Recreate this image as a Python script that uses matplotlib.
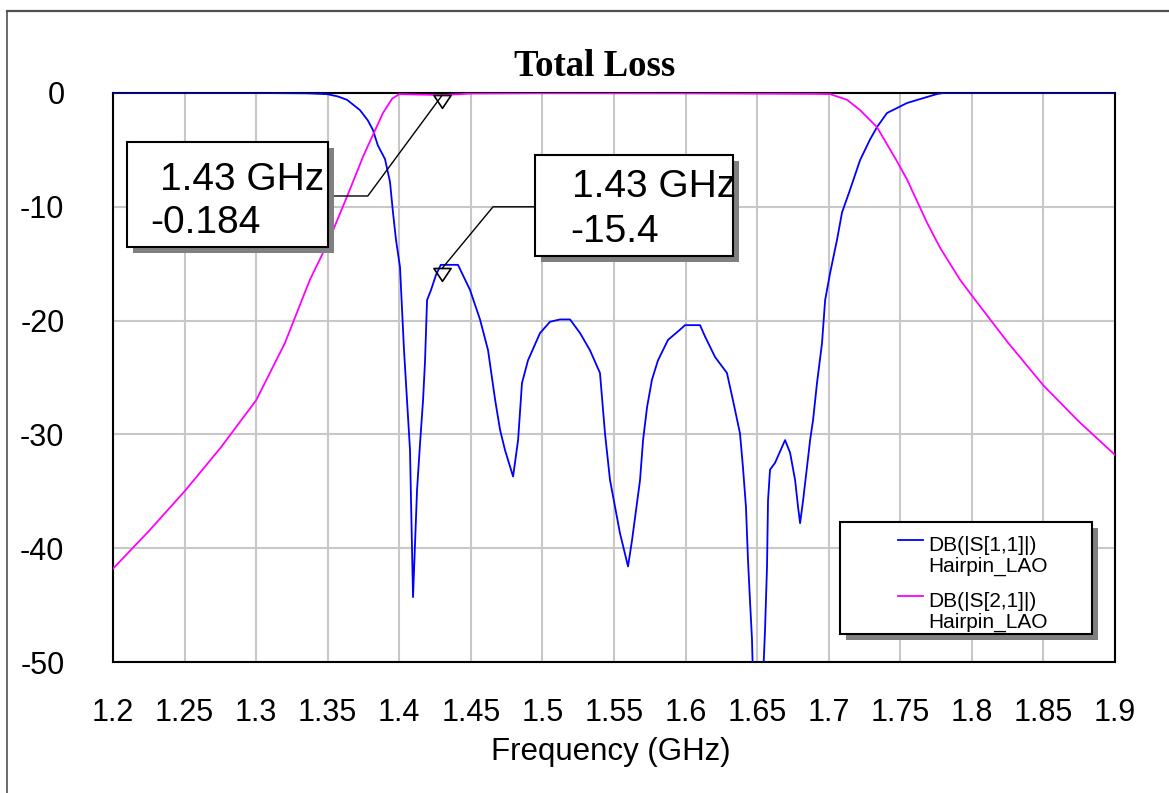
import matplotlib
matplotlib.use('Agg')
import matplotlib.pyplot as plt
from matplotlib.patches import Rectangle
from matplotlib.path import Path
from matplotlib.lines import Line2D

plt.rcParams['font.family'] = ['Liberation Sans', 'DejaVu Sans']
plt.rcParams['axes.unicode_minus'] = False

# DB(|S[1,1]|) Hairpin_LAO
s11_freq = [1.20, 1.30, 1.335, 1.3495, 1.357, 1.3635, 1.3725, 1.378, 1.3816, 1.385,
            1.390, 1.3935, 1.3956, 1.3977, 1.4005, 1.4033, 1.4054, 1.4075, 1.4082,
            1.4096, 1.4124, 1.4145, 1.4166, 1.418, 1.4194, 1.4222, 1.4256, 1.429,
            1.441, 1.4494, 1.4564, 1.462, 1.467, 1.4704, 1.4739, 1.4795, 1.483,
            1.4857, 1.4899, 1.4983, 1.5053, 1.5123, 1.5193, 1.5263, 1.5332, 1.5402,
            1.5437, 1.5472, 1.5542, 1.5598, 1.5626, 1.5682, 1.5703, 1.5731, 1.5765,
            1.5807, 1.5877, 1.5961, 1.5996, 1.6101, 1.6136, 1.6206, 1.6289, 1.6331,
            1.638, 1.6401, 1.6422, 1.6436, 1.645, 1.6464, 1.6471, 1.650, 1.6541,
            1.6555, 1.6569, 1.6576, 1.659, 1.6625, 1.6695, 1.673, 1.6765, 1.6786,
            1.680, 1.6821, 1.6848, 1.687, 1.6891, 1.6918, 1.6953, 1.6975, 1.701,
            1.7058, 1.7093, 1.7149, 1.7219, 1.7288, 1.7337, 1.7407, 1.7547, 1.7687,
            1.7757, 1.78, 1.90]
s11_db = [0.0, 0.0, -0.03, -0.1, -0.3, -0.6, -1.5, -2.4, -3.25, -4.6,
          -5.8, -7.8, -10.5, -12.9, -15.3, -22.6, -27.0, -31.4, -35.8,
          -44.3, -34.9, -30.8, -27.0, -23.5, -18.2, -17.3, -16.0, -15.1,
          -15.1, -17.3, -19.9, -22.6, -27.0, -29.6, -31.4, -33.7, -30.5,
          -25.5, -23.5, -21.1, -20.1, -19.9, -19.9, -21.1, -22.6, -24.6,
          -29.9, -34.0, -38.7, -41.6, -39.3, -34.0, -30.5, -27.6, -25.2,
          -23.5, -21.7, -20.8, -20.4, -20.4, -21.4, -23.2, -24.6, -27.0,
          -29.9, -32.9, -36.4, -41.0, -44.6, -48.0, -51.5, -60.0, -51.5,
          -47.2, -41.6, -35.8, -33.1, -32.5, -30.5, -31.6, -34.0, -36.4,
          -37.8, -35.8, -32.9, -30.5, -28.7, -25.5, -22.0, -18.2, -15.8,
          -12.9, -10.5, -8.5, -5.9, -4.1, -3.0, -1.76, -0.88, -0.35,
          -0.09, 0.0, 0.0]

# DB(|S[2,1]|) Hairpin_LAO
s21_freq = [1.20, 1.225, 1.25, 1.275, 1.30, 1.32, 1.3376, 1.35, 1.3635, 1.375,
            1.3886, 1.395, 1.40, 1.43, 1.45, 1.50, 1.60, 1.69, 1.701, 1.7128,
            1.7219, 1.7337, 1.7407, 1.7477, 1.7547, 1.7617, 1.7687, 1.7778,
            1.7917, 1.80, 1.825, 1.85, 1.875, 1.90]
s21_db = [-41.8, -38.5, -35.0, -31.2, -27.0, -22.0, -16.4, -13.2, -9.1, -5.5,
          -1.76, -0.5, -0.1, -0.184, -0.05, -0.02, -0.03, -0.08, -0.1, -0.6,
          -1.5, -3.0, -4.5, -6.0, -7.6, -9.5, -11.4, -13.6,
          -16.4, -17.8, -21.9, -25.7, -28.9, -31.8]

marker_freq = 1.43
marker_db = [-0.184, -15.4]   # S21 marker, S11 marker

x_ticks = [1.2, 1.25, 1.3, 1.35, 1.4, 1.45, 1.5, 1.55, 1.6, 1.65, 1.7, 1.75, 1.8, 1.85, 1.9]
x_tick_labels = ['1.2', '1.25', '1.3', '1.35', '1.4', '1.45', '1.5', '1.55', '1.6',
                 '1.65', '1.7', '1.75', '1.8', '1.85', '1.9']
y_ticks = [0, -10, -20, -30, -40, -50]
y_tick_labels = ['0', '-10', '-20', '-30', '-40', '-50']
trace_names = ['DB(|S[1,1]|)', 'DB(|S[2,1]|)']
trace_source = 'Hairpin_LAO'

BLUE = '#0000ff'
MAGENTA = '#ff00ff'
SHADOW = '#808080'

W, H = 1169, 793
fig = plt.figure(figsize=(W / 100, H / 100), dpi=100)
ax = fig.add_axes([113 / W, 1 - 662 / H, 1002 / W, 569 / H])

ax.plot(s11_freq, s11_db, color=BLUE, lw=1.3, zorder=3)
ax.plot(s21_freq, s21_db, color=MAGENTA, lw=1.3, zorder=3)

ax.set_xlim(1.2, 1.9)
ax.set_ylim(-50, 0)
ax.set_xticks(x_ticks)
ax.set_xticklabels(x_tick_labels)
ax.set_yticks(y_ticks)
ax.set_yticklabels(y_tick_labels)
ax.tick_params(axis='both', length=0, labelsize=22)
ax.tick_params(axis='x', pad=26)
ax.tick_params(axis='y', pad=35)
ax.grid(True, color='#c8c8c8', lw=1.5)
ax.set_axisbelow(True)
for sp in ax.spines.values():
    sp.set_color('black')
    sp.set_linewidth(1.5)

ax.set_title('Total Loss', x=0.481, pad=12, fontsize=26.5, fontweight='bold',
             family=['Liberation Serif', 'DejaVu Serif'])
ax.set_xlabel('Frequency (GHz)', fontsize=22.5)
ax.xaxis.set_label_coords(0.497, -0.132)

# marker triangles (base at the data point, tip below)
tri = Path([(-8, 0), (8, 0), (0, -12), (-8, 0)],
           [Path.MOVETO, Path.LINETO, Path.LINETO, Path.CLOSEPOLY])
ax.plot([marker_freq, marker_freq], marker_db, ls='none', marker=tri, ms=18.5,
        mfc='none', mec='black', mew=1.2, clip_on=False, zorder=6)

def marker_box(x0, x1, y0, y1, lines, text_x, text_y):
    dx, dy = 0.0042, 0.53
    ax.add_patch(Rectangle((x0 + dx, y0 - dy), x1 - x0, y1 - y0, fc=SHADOW, ec='none',
                           zorder=5, clip_on=False))
    ax.add_patch(Rectangle((x0, y0), x1 - x0, y1 - y0, fc='white', ec='black', lw=1.5,
                           zorder=5, clip_on=False))
    for s, tx, ty in zip(lines, text_x, text_y):
        ax.text(tx, ty, s, fontsize=28, va='baseline', ha='left', zorder=6)

# S21 marker label and leader
ax.plot([1.3502, 1.378, marker_freq], [-9.05, -9.05, marker_db[0]], color='black', lw=1.0, zorder=4)
marker_box(1.2098, 1.3502, -13.53, -4.31,
           [f'{marker_freq} GHz', f'{marker_db[0]}'], [1.2328, 1.2258], [-8.52, -12.30])

# S11 marker label and leader
ax.plot([1.4948, 1.4655, marker_freq], [-10.0, -10.0, marker_db[1]], color='black', lw=1.0, zorder=4)
marker_box(1.4948, 1.6331, -14.32, -5.45,
           [f'{marker_freq} GHz', f'{marker_db[1]}'], [1.5207, 1.5193], [-9.14, -13.09])

# legend box (axes fraction)
lx0, lx1, ly0, ly1 = 0.7255, 0.9770, 0.0492, 0.2460
ax.add_patch(Rectangle((lx0 + 0.006, ly0 - 0.0105), lx1 - lx0, ly1 - ly0, transform=ax.transAxes,
                       fc=SHADOW, ec='none', zorder=7, clip_on=False))
ax.add_patch(Rectangle((lx0, ly0), lx1 - lx0, ly1 - ly0, transform=ax.transAxes,
                       fc='white', ec='black', lw=1.5, zorder=7, clip_on=False))
for name, col, hy, by in zip(trace_names, [BLUE, MAGENTA], [0.2144, 0.1160], [0.1951, 0.0967]):
    ax.add_line(Line2D([0.7834, 0.8084], [hy, hy], transform=ax.transAxes, color=col, lw=1.3,
                       zorder=8))
    ax.text(0.8134, by, name, transform=ax.transAxes, fontsize=15, va='baseline', zorder=8)
    ax.text(0.8134, by - 0.0369, trace_source, transform=ax.transAxes, fontsize=15,
            va='baseline', zorder=8)

# outer window frame (top and left edges)
fig.add_artist(Line2D([7 / W, 1], [1 - 11 / H, 1 - 11 / H], color='#505050', lw=1.6))
fig.add_artist(Line2D([7 / W, 7 / W], [0, 1 - 11 / H], color='#505050', lw=1.2))

fig.savefig('out.png', dpi=100)
